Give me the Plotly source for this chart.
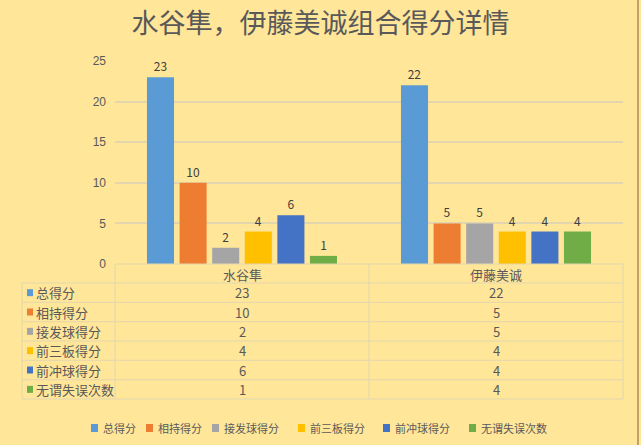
import plotly.graph_objects as go

# ---------------- data ----------------
categories = ["水谷隼", "伊藤美诚"]
series_names = ["总得分", "相持得分", "接发球得分", "前三板得分", "前冲球得分", "无谓失误次数"]
total_points = [23, 22]
rally_points = [10, 5]
receive_points = [2, 5]
first3_points = [4, 4]
attack_points = [6, 4]
unforced_errors = [1, 4]
series_values = [total_points, rally_points, receive_points, first3_points, attack_points, unforced_errors]
colors = ["#5B9BD5", "#ED7D31", "#A5A5A5", "#FFC000", "#4472C4", "#70AD47"]
y_ticks = [0, 5, 10, 15, 20, 25]
title_text = "水谷隼，伊藤美诚组合得分详情"

# ---------------- layout geometry (pixels) ----------------
W, H = 641, 445
PL, PR, PT, PB = 115, 623, 61, 264  # plot area
BG = "#FFE699"
GRID = "#E3D6AE"
TXT = "#595959"
FONT = "Noto Sans CJK SC"


def px(x):
    return (x - PL) / (PR - PL)


def py(y):
    return (PB - y) / (PB - PT)


fig = go.Figure()
for name, vals, col in zip(series_names, series_values, colors):
    fig.add_trace(go.Bar(
        x=categories, y=vals, name=name, marker=dict(color=col, line=dict(width=0)),
        text=[str(v) for v in vals], textposition="outside", cliponaxis=False,
        textfont=dict(size=12, color="#404040", family=FONT), showlegend=False,
    ))

shapes = []
annotations = []

# table grid
row_edges = [283, 302.3, 321.7, 341, 360.3, 379.7, 399]
for i, ye in enumerate(row_edges):
    shapes.append(dict(type="line", xref="paper", yref="paper", x0=px(22), x1=px(PR),
                       y0=py(ye), y1=py(ye), line=dict(color=GRID, width=1)))
shapes.append(dict(type="line", xref="paper", yref="paper", x0=px(PL), x1=px(PR),
                   y0=py(PB), y1=py(PB), line=dict(color=GRID, width=1)))
shapes.append(dict(type="line", xref="paper", yref="paper", x0=px(22), x1=px(22),
                   y0=py(283), y1=py(399), line=dict(color=GRID, width=1)))
ncat = len(categories)
for k in range(ncat + 1):
    xb = k / ncat
    shapes.append(dict(type="line", xref="paper", yref="paper", x0=xb, x1=xb,
                       y0=py(PB), y1=py(399), line=dict(color=GRID, width=1)))

# header row
for c in categories:
    annotations.append(dict(x=c, xref="x", y=py(274), yref="paper", text=c, showarrow=False,
                            xanchor="center", yanchor="middle",
                            font=dict(size=13, color=TXT, family=FONT)))
# data rows
for r, (name, vals, col) in enumerate(zip(series_names, series_values, colors)):
    yc = (row_edges[r] + row_edges[r + 1]) / 2
    shapes.append(dict(type="rect", xref="paper", yref="paper", x0=px(27), x1=px(33),
                       y0=py(yc + 3.5), y1=py(yc - 3.5), fillcolor=col, line=dict(width=0)))
    annotations.append(dict(x=px(34), xref="paper", y=py(yc), yref="paper", text=name,
                            xanchor="left", yanchor="middle", showarrow=False,
                            font=dict(size=13, color=TXT, family=FONT)))
    for c, v in zip(categories, vals):
        annotations.append(dict(x=c, xref="x", y=py(yc), yref="paper", text=str(v),
                                xanchor="center", yanchor="middle",
                                showarrow=False, font=dict(size=13, color=TXT, family=FONT)))

# custom legend at bottom
legend_sq_x = [91, 146, 212, 298, 383, 469]
ly = 428
for name, col, sx in zip(series_names, colors, legend_sq_x):
    shapes.append(dict(type="rect", xref="paper", yref="paper", x0=px(sx), x1=px(sx + 7),
                       y0=py(ly + 4), y1=py(ly - 4), fillcolor=col, line=dict(width=0)))
    annotations.append(dict(x=px(sx + 10), xref="paper", y=py(ly), yref="paper", text=name,
                            xanchor="left", yanchor="middle", showarrow=False,
                            font=dict(size=11, color=TXT, family=FONT)))

# right border line
shapes.append(dict(type="line", xref="paper", yref="paper", x0=px(638), x1=px(638),
                   y0=py(0), y1=py(H), line=dict(color="#B08A5A", width=1.5)))

fig.update_layout(
    width=W, height=H,
    margin=dict(l=PL, r=W - PR, t=PT, b=H - PB, pad=0),
    paper_bgcolor=BG, plot_bgcolor=BG,
    barmode="group", bargap=0.23, bargroupgap=0.17,
    title=dict(text=title_text, x=0.5, xanchor="center", y=1 - 24 / H, yanchor="middle",
               yref="container", font=dict(size=27, color=TXT, family=FONT)),
    xaxis=dict(showticklabels=False, showgrid=False, zeroline=False, showline=False, ticks=""),
    yaxis=dict(range=[0, 25], tickvals=y_ticks, showgrid=True, gridcolor=GRID, gridwidth=1.5,
               zeroline=False, showline=False, ticks="", ticklabelstandoff=8,
               tickfont=dict(size=12, color=TXT, family="Liberation Sans")),
    shapes=shapes, annotations=annotations, showlegend=False,
    font=dict(family=FONT),
)

fig.write_html("out.html")
